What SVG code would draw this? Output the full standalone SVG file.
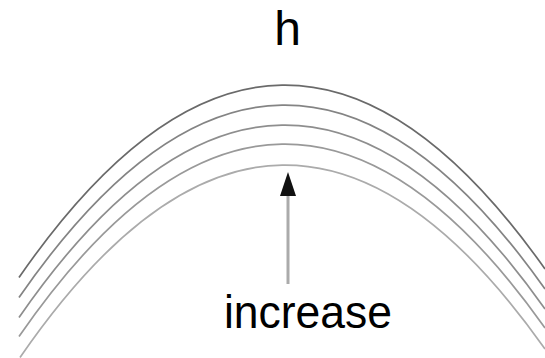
<svg xmlns="http://www.w3.org/2000/svg" width="545" height="358" viewBox="0 0 545 358">
  <style>
    .curve { fill: none; stroke-width: 1.7; }
    .lbl { font-family: "Liberation Sans", Arial, sans-serif; fill: #000; }
  </style>
  <rect width="545" height="358" fill="#fff"/>
  <g id="curves">
    <path class="curve" stroke="#6a6a6a" d="M19,277.5 Q282,-103.1 545,269"/>
    <path class="curve" stroke="#848484" d="M19,297.5 Q282,-83.1 545,289"/>
    <path class="curve" stroke="#8e8e8e" d="M19,317.5 Q282,-63.1 545,309"/>
    <path class="curve" stroke="#999999" d="M19,336.5 Q282,-44.1 545,328"/>
    <path class="curve" stroke="#ababab" d="M20,357.5 Q282,-23.1 545,349"/>
  </g>
  <g id="label-h">
    <text class="lbl" x="287.5" y="45" font-size="48" text-anchor="middle">h</text>
  </g>
  <g id="connectors">
    <line x1="288" y1="284" x2="288" y2="195" stroke="#ababab" stroke-width="3"/>
    <polygon points="288,172 280,196 296,196" fill="#111"/>
  </g>
  <g id="label-increase">
    <text class="lbl" x="308" y="328" font-size="46" text-anchor="middle" textLength="168" lengthAdjust="spacingAndGlyphs">increase</text>
  </g>
</svg>
